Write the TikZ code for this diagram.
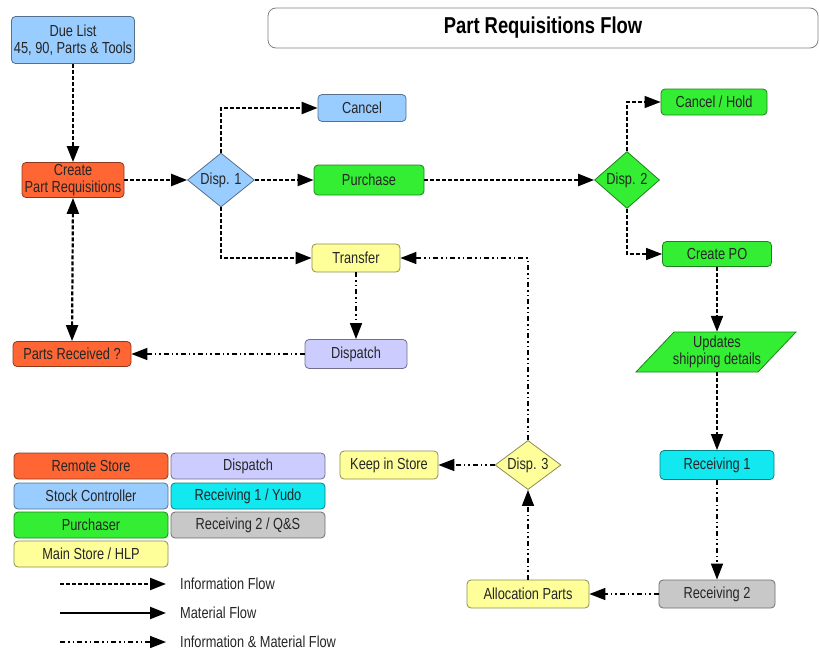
\documentclass[tikz,border=0pt]{standalone}
\usepackage{fontspec}
\setmainfont[FakeStretch=0.8]{Liberation Sans}
\usetikzlibrary{arrows.meta,shapes.geometric}
\definecolor{corange}{HTML}{FF6633}
\definecolor{cblue}{HTML}{99CCFF}
\definecolor{cgreen}{HTML}{33EE33}
\definecolor{cyellow}{HTML}{FFFF99}
\definecolor{clav}{HTML}{CCCCFF}
\definecolor{ccyan}{HTML}{11E8F0}
\definecolor{cgray}{HTML}{C8C8C8}
\begin{document}
\begin{tikzpicture}[x=1pt,y=-1pt,
  box/.style={draw=#1!55!black, fill=#1, rounded corners=4pt, line width=0.8pt,
    inner sep=0pt, font=\fontsize{16}{17}\selectfont, text=black!85, align=center},
  dia/.style={diamond, draw=#1!55!black, fill=#1, line width=0.8pt, aspect=1.2,
    inner sep=0pt, font=\fontsize{16}{17}\selectfont, text=black!85},
  info/.style={line width=2.2pt, dash pattern=on 4pt off 2pt,
    -{Triangle[length=16pt,width=12pt]}},
  infothin/.style={line width=1.3pt, dash pattern=on 4pt off 2pt,
    -{Triangle[length=16pt,width=12pt]}},
  mixed/.style={line width=1.6pt,
    dash pattern=on 5pt off 3pt on 1.5pt off 3pt on 1.5pt off 3pt,
    -{Triangle[length=16pt,width=12pt]}},
  solidflow/.style={line width=2.2pt, -{Triangle[length=16pt,width=12pt]}},
  legtext/.style={anchor=west, inner sep=0pt, font=\fontsize{16}{17}\selectfont, text=black!85}
]
\useasboundingbox (0,0) rectangle (819,653);

% title
\node[draw=black!50, rounded corners=8pt, line width=0.8pt, minimum width=550pt,
  minimum height=40pt, inner sep=0pt, font=\fontsize{23}{24}\selectfont\bfseries]
  (title) at (543,28) {Part Requisitions Flow};

% main nodes
\node[box=cblue, minimum width=123pt, minimum height=47pt] (due) at (73,40)
  {Due List\\45, 90, Parts \& Tools};
\node[box=corange, minimum width=102pt, minimum height=35pt] (cpr) at (73,180)
  {Create\\Part Requisitions};
\node[dia=cblue, minimum width=67pt, minimum height=54pt] (d1) at (221,180) {Disp. 1};
\node[box=cblue, minimum width=88pt, minimum height=27pt] (cancel) at (362,108) {Cancel};
\node[box=cgreen, minimum width=110pt, minimum height=30pt] (purch) at (369,180) {Purchase};
\node[box=cyellow, minimum width=88pt, minimum height=28pt] (transfer) at (356,258) {Transfer};
\node[box=clav, minimum width=102pt, minimum height=29pt] (dispatch) at (356,354) {Dispatch};
\node[box=corange, minimum width=118pt, minimum height=25pt] (prec) at (72,354) {Parts Received ?};
\node[dia=cgreen, minimum width=65pt, minimum height=57pt] (d2) at (627,180) {Disp. 2};
\node[box=cgreen, minimum width=106pt, minimum height=26pt] (chold) at (714,102) {Cancel / Hold};
\node[box=cgreen, minimum width=109pt, minimum height=25pt] (cpo) at (717,254) {Create PO};
\fill[cgreen, draw=cgreen!55!black, line width=0.8pt]
  (636,372) -- (674,332) -- (796,332) -- (758,372) -- cycle;
\node[align=center, inner sep=0pt, minimum height=40pt, font=\fontsize{16}{17}\selectfont,
  text=black!85] (upd) at (717,352) {Updates\\shipping details};
\node[box=ccyan, minimum width=114pt, minimum height=29pt] (rec1) at (717,465) {Receiving 1};
\node[box=cgray, minimum width=116pt, minimum height=28pt] (rec2) at (717,594) {Receiving 2};
\node[box=cyellow, minimum width=122pt, minimum height=28pt] (alloc) at (528,594) {Allocation Parts};
\node[dia=cyellow, minimum width=66pt, minimum height=49pt] (d3) at (528,465) {Disp. 3};
\node[box=cyellow, minimum width=98pt, minimum height=28pt] (keep) at (389,465) {Keep in Store};

% connectors
\draw[info] (due.south) -- (cpr.north);
\draw[info] (cpr.east) -- (d1.west);
\draw[info] (d1.north) |- (cancel.west);
\draw[info] (d1.east) -- (purch.west);
\draw[info] (d1.south) |- (transfer.west);
\draw[info] (purch.east) -- (d2.west);
\draw[infothin] (d2.north) |- (chold.west);
\draw[infothin] (d2.south) |- (cpo.west);
\draw[info] (cpo.south) -- (upd.north);
\draw[infothin] (upd.south) -- (rec1.north);
\draw[mixed] (rec1.south) -- (rec2.north);
\draw[mixed] (rec2.west) -- (alloc.east);
\draw[mixed] (alloc.north) -- (d3.south);
\draw[mixed] (d3.west) -- (keep.east);
\draw[mixed] (d3.north) |- (transfer.east);
\draw[mixed] (transfer.south) -- (dispatch.north);
\draw[mixed] (dispatch.west) -- (prec.east);
\draw[info, {Triangle[length=16pt,width=12pt]}-{Triangle[length=16pt,width=12pt]}]
  (cpr.south) -- (prec.north);

% legend boxes
\node[box=corange, minimum width=154pt, minimum height=26pt] (lg1) at (91,466) {Remote Store};
\node[box=clav, minimum width=154pt, minimum height=26pt] (lg2) at (248,466) {Dispatch};
\node[box=cblue, minimum width=154pt, minimum height=26pt] (lg3) at (91,496) {Stock Controller};
\node[box=ccyan, minimum width=154pt, minimum height=26pt] (lg4) at (248,496) {Receiving 1 / Yudo};
\node[box=cgreen, minimum width=154pt, minimum height=26pt] (lg5) at (91,525) {Purchaser};
\node[box=cgray, minimum width=154pt, minimum height=26pt] (lg6) at (248,525) {Receiving 2 / Q\&S};
\node[box=cyellow, minimum width=154pt, minimum height=26pt] (lg7) at (91,554) {Main Store / HLP};

% legend lines
\coordinate (la1) at (60,584); \coordinate (lb1) at (166,584);
\coordinate (la2) at (60,613); \coordinate (lb2) at (166,613);
\coordinate (la3) at (60,642); \coordinate (lb3) at (166,642);
\draw[info] (la1) -- (lb1);
\draw[solidflow] (la2) -- (lb2);
\draw[mixed] (la3) -- (lb3);
\node[legtext] (lt1) at (180,584) {Information Flow};
\node[legtext] (lt2) at (180,613) {Material Flow};
\node[legtext] (lt3) at (180,642) {Information \& Material Flow};
\end{tikzpicture}
\end{document}
